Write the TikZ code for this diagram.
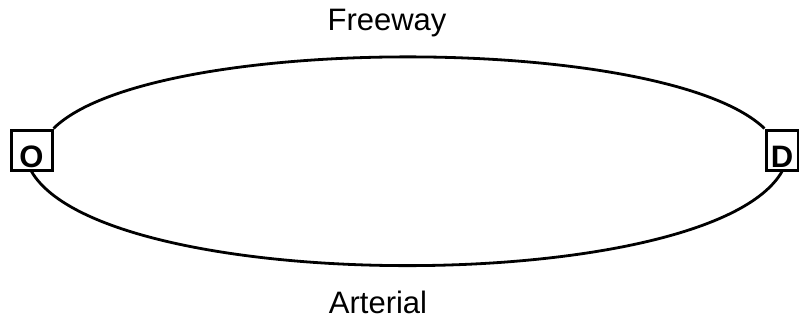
\documentclass[tikz,border=0pt]{standalone}
\usepackage{fontspec}
\setmainfont{Liberation Sans}
\begin{document}
\begin{tikzpicture}[x=1pt,y=-1pt,
  endbox/.style={draw=black, line width=3pt, fill=white, inner sep=0pt,
    minimum height=40pt, text height=34pt, text depth=0pt,
    font=\fontsize{31}{32}\selectfont\bfseries},
  road/.style={draw=black, line width=2.8pt},
  roadlabel/.style={anchor=base, font=\fontsize{31}{32}\selectfont}]
\useasboundingbox (0,0) rectangle (799,324);
\node[endbox, minimum width=41pt] (O) at (31.5,150) {O};
\node[endbox, minimum width=32pt] (D) at (782,150) {D};
\draw[road] (O.north east) .. controls (150,33) and (665,33) .. (D.north west);
\draw[road] (O.south) .. controls (105,297) and (710,297) .. (D.south);
\node[endbox, minimum width=41pt] at (O) {O};
\node[endbox, minimum width=32pt] at (D) {D};
\node[roadlabel] (fw) at (387,30) {Freeway};
\node[roadlabel] (ar) at (378,313) {Arterial};
\end{tikzpicture}
\end{document}
